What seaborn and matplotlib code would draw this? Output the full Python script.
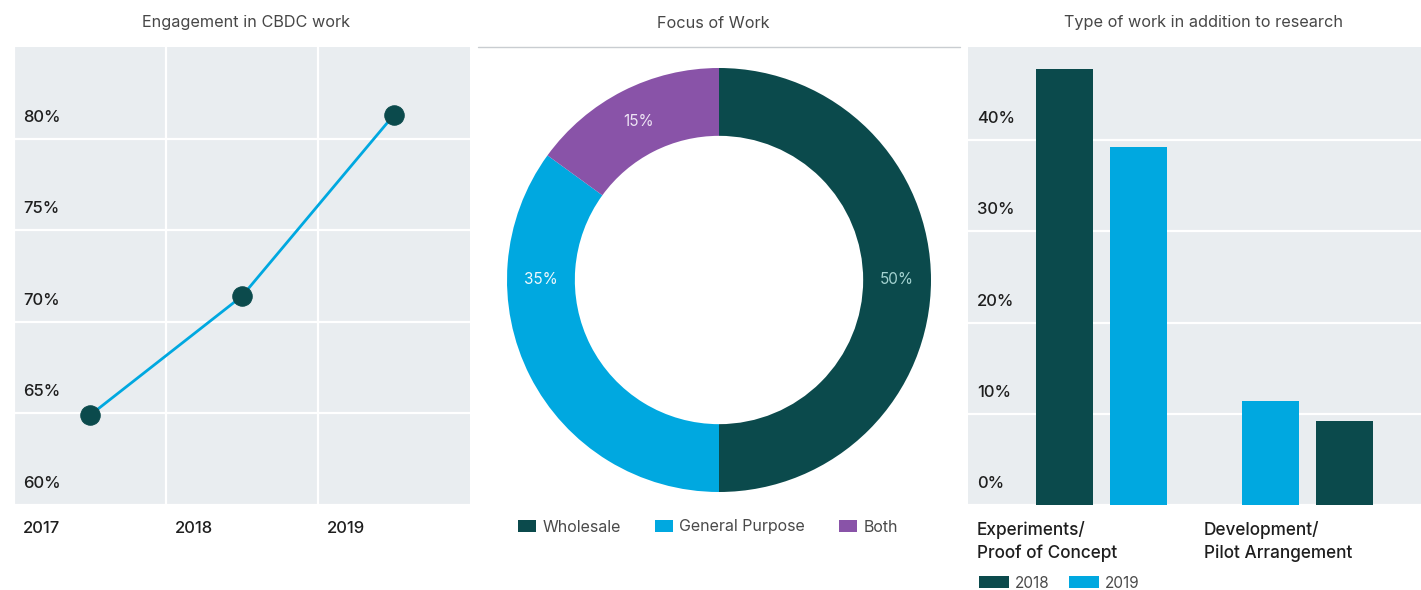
import matplotlib
matplotlib.use("Agg")
import matplotlib.pyplot as plt
import matplotlib.transforms as mtransforms
from matplotlib.lines import Line2D
from matplotlib.patches import Patch
import pandas as pd
import seaborn as sns

# --- data ---
years = [2017, 2018, 2019]
engagement = [64.9, 71.4, 81.3]
engagement_ticks = [60, 65, 70, 75, 80]

focus_labels = ["Wholesale", "General Purpose", "Both"]
focus_share = [50, 35, 15]

work_types = ["Experiments/\nProof of Concept", "Development/\nPilot Arrangement"]
work_years = ["2018", "2019"]
work_2018 = [47.8, 9.2]
work_2019 = [39.2, 11.4]
# bar order inside each group, as in the source (second group is swapped)
bar_order = [["2018", "2019"], ["2019", "2018"]]
work_ticks = [0, 10, 20, 30, 40]

DARK = "#0b4a4c"
BLUE = "#00a8e0"
PURPLE = "#8953a8"
PANEL = "#e9edf0"
INK = "#1e1e1e"
GREY_TXT = "#474747"

W, H = 1421, 590

sns.set_theme(style="whitegrid", rc={
    "axes.facecolor": PANEL,
    "grid.color": "white",
    "grid.linewidth": 1.6,
    "axes.spines.left": False,
    "axes.spines.right": False,
    "axes.spines.top": False,
    "axes.spines.bottom": False,
})
plt.rcParams["font.family"] = ["Inter", "DejaVu Sans"]

fig = plt.figure(figsize=(W / 100, H / 100), dpi=100)


def px_box(x0, y0, x1, y1):
    return [x0 / W, (H - y1) / H, (x1 - x0) / W, (y1 - y0) / H]


def shift(dx, dy):
    return mtransforms.ScaledTranslation(dx / 100, dy / 100, fig.dpi_scale_trans)


def inside_ylabels(ax, ticks, fmt):
    trans = mtransforms.blended_transform_factory(ax.transAxes, ax.transData)
    for t in ticks:
        ax.text(0, t, fmt(t), transform=trans + shift(9, 17), ha="left",
                va="baseline", fontsize=12, color=INK, fontweight="medium")


def edge_xlabels(ax, positions, labels, dy, va, size=12):
    trans = mtransforms.blended_transform_factory(ax.transData, ax.transAxes)
    for p, lab in zip(positions, labels):
        ax.text(p, 0, lab, transform=trans + shift(9, dy), ha="left", va=va,
                fontsize=size, color=INK, linespacing=1.38, fontweight="medium")


def title(x_px, text):
    fig.text(x_px / W, (H - 23) / H, text, ha="center", va="center",
             fontsize=11.7, color=GREY_TXT)


# --- left: engagement line ---
ax1 = fig.add_axes(px_box(14, 47, 470, 505))
sns.lineplot(x=years, y=engagement, ax=ax1, color=BLUE, linewidth=2,
             marker="o", markersize=14, markerfacecolor=DARK,
             markeredgecolor=DARK)
ax1.set_xlim(years[0] - 0.5, years[-1] + 0.5)
ax1.set_ylim(60, 85)
bounds = [y - 0.5 for y in years]
ax1.set_xticks(bounds)
ax1.set_xticklabels([])
ax1.set_yticks(engagement_ticks)
ax1.set_yticklabels([])
ax1.tick_params(length=0)
ax1.set_xlabel("")
ax1.set_ylabel("")
inside_ylabels(ax1, engagement_ticks, lambda v: f"{v}%")
edge_xlabels(ax1, bounds, [str(y) for y in years], -28, "baseline")
title(246, "Engagement in CBDC work")

# --- middle: focus donut ---
cx, cy, r = 719, 280, 212
ax2 = fig.add_axes(px_box(cx - 1.25 * r, cy - 1.25 * r, cx + 1.25 * r, cy + 1.25 * r))
wedges, _, pcts = ax2.pie(
    focus_share, colors=[DARK, BLUE, PURPLE], startangle=90, counterclock=False,
    wedgeprops=dict(width=0.32, edgecolor="none"), autopct="%d%%",
    pctdistance=0.84, textprops=dict(fontsize=11))
for txt, col in zip(pcts, ["#a3d2d0", "#eef8fd", "#eee4f4"]):
    txt.set_color(col)
# the source puts the General Purpose label level with the centre
pcts[1].set_position((-0.84, 0))
fig.add_artist(Line2D([478 / W, 960 / W], [(H - 47) / H] * 2,
                      color="#c9cdd1", linewidth=1))
title(713, "Focus of Work")
fig.legend(handles=[Patch(facecolor=c, edgecolor="none", label=l)
                    for c, l in zip([DARK, BLUE, PURPLE], focus_labels)],
           loc="center", bbox_to_anchor=(708 / W, (H - 527) / H), ncol=3,
           frameon=False, fontsize=11.5, handlelength=1.15, handleheight=0.8,
           handletextpad=0.4, columnspacing=2.1, labelcolor="#4a4a4a",
           borderpad=0, borderaxespad=0)

# --- right: type of work bars ---
values = {"2018": work_2018, "2019": work_2019}
rows = []
for i, wt in enumerate(work_types):
    for slot, yr in enumerate(bar_order[i]):
        rows.append({"type": wt, "slot": slot, "year": yr, "value": values[yr][i]})
df = pd.DataFrame(rows)
year_color = {"2018": DARK, "2019": BLUE}

ax3 = fig.add_axes(px_box(968, 47, 1421, 505))
sns.barplot(data=df, x="type", y="value", hue="slot", order=work_types,
            hue_order=[0, 1], width=0.718, gap=0.23, legend=False, ax=ax3)
for slot, cont in enumerate(ax3.containers):
    for i, bar in enumerate(cont):
        bar.set_facecolor(year_color[bar_order[i][slot]])
        bar.set_edgecolor("none")
divider = 0.454
ax3.set_xlim(-0.648, 1.551)
ax3.set_ylim(0, 50.2)
ax3.set_xticks([-0.648, divider])
ax3.set_xticklabels([])
ax3.set_yticks(work_ticks)
ax3.set_yticklabels([])
ax3.tick_params(length=0)
ax3.set_xlabel("")
ax3.set_ylabel("")
inside_ylabels(ax3, work_ticks, lambda v: f"{v}%")
edge_xlabels(ax3, [-0.648, divider], work_types, -16, "top", size=12.4)
title(1204, "Type of work in addition to research")
fig.legend(handles=[Patch(facecolor=year_color[y], edgecolor="none", label=y)
                    for y in work_years],
           loc="center left", bbox_to_anchor=(979 / W, (H - 583) / H), ncol=2,
           frameon=False, fontsize=11, handlelength=1.95, handleheight=0.8,
           handletextpad=0.4, columnspacing=1.3, labelcolor="#4a4a4a",
           borderpad=0, borderaxespad=0)

fig.savefig("out.png", dpi=100)
